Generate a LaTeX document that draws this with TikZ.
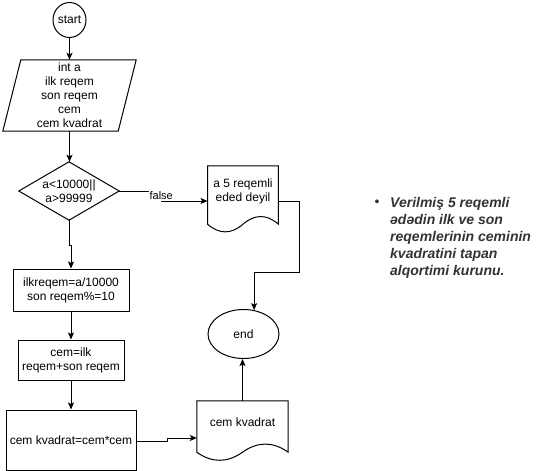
\documentclass[tikz,border=0pt]{standalone}
\usepackage{fontspec}
\setmainfont{Liberation Sans}
\usetikzlibrary{calc,arrows.meta,shapes.geometric}
\definecolor{notegray}{HTML}{333333}

% Document symbol: straight top and sides, wavy bottom edge.
% #1 node name, #2 how far the sides run below the node, #3 wave depth
\newcommand\docoutline[3]{%
  \draw[outline] let \p1=(#1.south west), \p2=(#1.south east),
      \n1={(\x2-\x1)/6}, \n2={\y1-#2pt}, \n3={0.5*(\x1+\x2)}, \n4={0.6*#3pt} in
    (#1.north west) -- (#1.north east) -- (\x2,\n2)
    .. controls ({\x2-\n1},{\n2+\n4}) and ({\n3+\n1},{\n2+\n4}) .. (\n3,\n2)
    .. controls ({\n3-\n1},{\n2-\n4}) and ({\x1+\n1},{\n2-\n4}) .. (\x1,\n2)
    -- cycle;}

\begin{document}
\begin{tikzpicture}[x=1pt,y=-1pt,
  font=\fontsize{12}{14}\selectfont,
  outline/.style={draw=black, line width=1pt, line join=miter},
  plain/.style={rectangle, align=center, inner sep=0pt},
  proc/.style={plain, outline},
  terminal/.style={ellipse, outline, inner sep=0pt, align=center},
  flow/.style={draw=black, line width=1pt,
    -{Stealth[length=7pt,width=6pt,inset=1.5pt]}},
  edgelabel/.style={fill=white, inner sep=1pt, font=\fontsize{11}{13}\selectfont},
  note/.style={text=notegray, align=left, inner sep=0pt,
    font=\fontsize{14}{17}\selectfont\bfseries\itshape}]

\fill[white] (0,0) rectangle (558,471);
\useasboundingbox (0,0) rectangle (558,471);

% terminals
\node[terminal, minimum width=32, minimum height=35] (start) at (69.5,20) {start};
\node[terminal, minimum width=71, minimum height=49] (end) at (243.5,334) {end};

% input / output parallelogram
\node[plain, minimum width=115, minimum height=71] (input) at (69.5,95.5)
  {int a\\ilk reqem\\son reqem\\cem\\cem kvadrat};
\draw[outline] ([xshift=9pt]input.north west) -- ([xshift=9pt]input.north east)
  -- ([xshift=-9pt]input.south east) -- ([xshift=-9pt]input.south west) -- cycle;

% decision
\node[plain, minimum width=100, minimum height=58] (dec) at (69,191)
  {a<10000||\\a>99999};
\draw[outline] (dec.north) -- (dec.east) -- (dec.south) -- (dec.west) -- cycle;

% processes
\node[proc, minimum width=116, minimum height=42] (r1) at (71,290)
  {ilkreqem=a/10000\\son reqem\%=10};
\node[proc, minimum width=106, minimum height=40] (r2) at (71,360)
  {cem=ilk\\reqem+son reqem};
\node[proc, minimum width=130, minimum height=60] (r3) at (71,440)
  {cem kvadrat=cem*cem};

% documents
\node[plain, minimum width=70.5, minimum height=51] (doc1) at (243,191.5)
  {a 5 reqemli\\eded deyil};
\docoutline{doc1}{7}{17}
\node[plain, minimum width=91, minimum height=42] (doc2) at (242.5,422)
  {cem kvadrat};
\docoutline{doc2}{9}{18}

% connectors
\coordinate (j1) at (299,272);
\draw[flow] (start.south) -- (start.south |- input.north);
\draw[flow] (input.south) -- (input.south |- dec.north);
\draw[flow] (dec.south) -- ++(0,25) -| (r1.north);
\draw[flow] (r1.south) -- (r2.north);
\draw[flow] (r2.south) -- (r3.north);
\draw[flow] (dec.east) -- ++(42,0)
  |- node[edgelabel, pos=0.25] (falselbl) {false} ([yshift=-9.5pt]doc1.west);
\draw[flow] ([yshift=-9.5pt]doc1.east) -| (j1) -| (end.66);
\draw[flow] ([yshift=-1pt]r3.east) -- ++(31,0) |- ([yshift=-16pt]doc2.west);
\draw[flow] (doc2.north) -- (doc2.north |- end.south);

% task statement
\node[note, font=\fontsize{14}{17}\selectfont] (dot) at (377,203.5) {•};
\node[note, anchor=north west] (task) at (390,197)
  {Verilmiş 5 reqemli\\ədədin ilk ve son\\reqemlerinin ceminin\\kvadratini tapan\\alqortimi kurunu.};
\end{tikzpicture}
\end{document}
